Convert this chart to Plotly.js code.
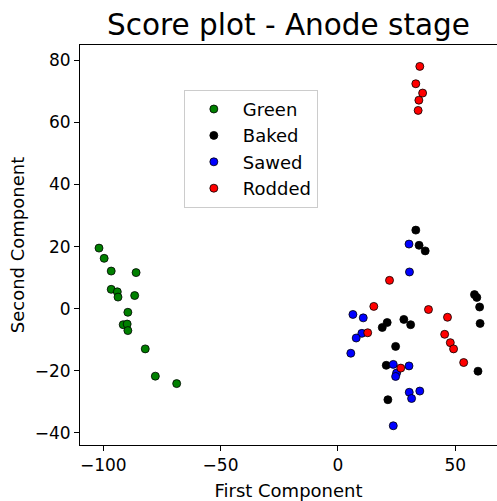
<!DOCTYPE html>
<html>
<head>
<meta charset="utf-8">
<script src="https://cdn.plot.ly/plotly-3.0.1.min.js"></script>
<style>html,body{margin:0;padding:0;background:#fff;}</style>
</head>
<body>
<div id="chart" style="width:497px;height:501px;"></div>
<script>
// Data
const seriesNames = ["Green", "Baked", "Sawed", "Rodded"];
const seriesColors = ["#008000", "#000000", "#0000ff", "#ff0000"];

const greenX = [-101.8, -99.6, -96.6, -86.0, -96.6, -94.0, -93.7, -86.6, -89.5, -91.5, -89.8, -89.5, -82.1, -77.8, -68.7];
const greenY = [19.5, 16.2, 12.1, 11.6, 6.2, 5.4, 3.7, 4.2, -1.2, -5.2, -5.0, -7.1, -13.0, -21.8, -24.2];

const bakedX = [33.2, 34.6, 37.2, 58.2, 59.2, 60.4, 60.6, 59.7, 21.0, 18.9, 28.1, 31.0, 24.6, 20.6, 21.3];
const bakedY = [25.3, 20.4, 18.6, 4.5, 3.6, 0.5, -4.8, -20.2, -4.5, -6.1, -3.5, -5.2, -12.2, -18.3, -29.4];

const sawedX = [30.3, 30.5, 6.4, 10.8, 10.2, 7.8, 5.5, 23.6, 30.3, 25.0, 24.6, 30.4, 34.9, 31.4, 23.6];
const sawedY = [20.8, 11.8, -1.9, -3.0, -8.0, -9.5, -14.4, -18.0, -18.5, -20.8, -21.9, -27.0, -26.6, -29.0, -37.8];

const roddedX = [34.9, 33.2, 36.1, 34.5, 34.2, 22.0, 15.3, 38.6, 46.7, 12.7, 45.5, 47.9, 49.3, 53.6, 26.8];
const roddedY = [78.1, 72.5, 69.5, 67.2, 63.9, 9.1, 0.7, -0.3, -2.8, -7.8, -8.3, -11.0, -13.0, -17.4, -19.2];

const xTickVals = [-100, -50, 0, 50];
const yTickVals = [-40, -20, 0, 20, 40, 60, 80];

const xs = [greenX, bakedX, sawedX, roddedX];
const ys = [greenY, bakedY, sawedY, roddedY];

const traces = seriesNames.map((name, i) => ({
  type: "scatter",
  mode: "markers",
  name: name,
  x: xs[i],
  y: ys[i],
  marker: {color: seriesColors[i], size: 8, line: {color: "#000000", width: 0.8}}
}));

const font = "DejaVu Sans, sans-serif";

const layout = {
  width: 497,
  height: 501,
  margin: {l: 80, r: 0, t: 45, b: 56},
  paper_bgcolor: "#ffffff",
  plot_bgcolor: "#ffffff",
  font: {family: font, color: "#000000", size: 17},
  title: {
    text: "Score plot - Anode stage",
    font: {family: font, size: 29.5, color: "#000000"},
    xref: "paper", x: 0.5, xanchor: "center",
    yref: "container", y: 0.951, yanchor: "middle"
  },
  xaxis: {
    range: [-109.9, 67.8],
    tickvals: xTickVals,
    ticktext: xTickVals.map(v => v < 0 ? "\u2212" + Math.abs(v) : String(v)),
    ticks: "outside", ticklen: 5, tickwidth: 1, tickcolor: "#000",
    showgrid: false, zeroline: false,
    showline: true, linecolor: "#000", linewidth: 1, mirror: true,
    tickfont: {family: font, size: 17},
    title: {text: "First Component", font: {family: font, size: 18}, standoff: 10}
  },
  yaxis: {
    range: [-44.0, 85.0],
    tickvals: yTickVals,
    ticktext: yTickVals.map(v => v < 0 ? "\u2212" + Math.abs(v) : String(v)),
    ticks: "outside", ticklen: 5, tickwidth: 1, tickcolor: "#000",
    showgrid: false, zeroline: false,
    showline: true, linecolor: "#000", linewidth: 1, mirror: true,
    tickfont: {family: font, size: 17},
    title: {text: "Second Component", font: {family: font, size: 18}, standoff: 5}
  },
  showlegend: true,
  legend: {
    x: 0.249, y: 0.888, xanchor: "left", yanchor: "top",
    bgcolor: "#ffffff", bordercolor: "#cccccc", borderwidth: 1,
    font: {family: font, size: 18, color: "#000"},
    itemwidth: 48
  }
};

Plotly.newPlot("chart", traces, layout, {displayModeBar: false, staticPlot: true});
</script>
</body>
</html>
